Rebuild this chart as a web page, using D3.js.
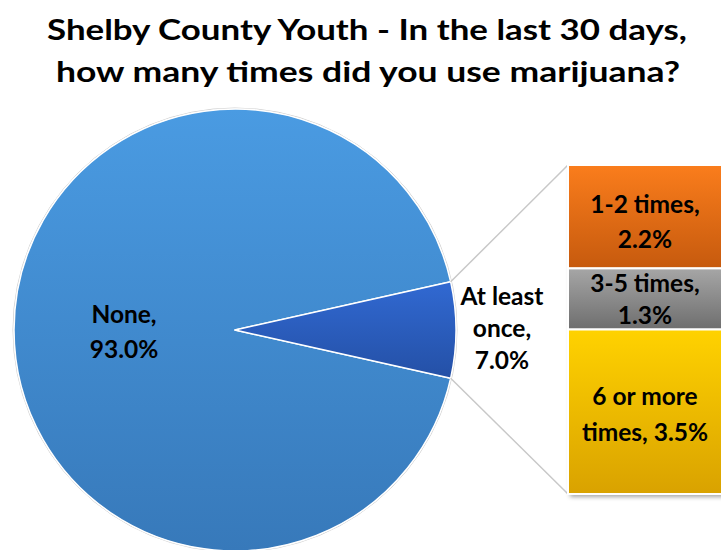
<!DOCTYPE html>
<html><head><meta charset="utf-8">
<script src="https://cdn.jsdelivr.net/npm/d3@7"></script>
<style>body{margin:0;background:#fff;overflow:hidden}svg{display:block}text{font-family:Lato,"Open Sans",sans-serif;font-weight:bold;fill:#000}</style>
</head><body>
<svg id="c" width="721" height="550"></svg>
<script>
const titleLines = ["Shelby County Youth - In the last 30 days,", "how many times did you use marijuana?"];
const pieCategories = ["None", "At least once"];
const pieValues = [93.0, 7.0];
const pieLabels = [["None,", "93.0%"], ["At least", "once,", "7.0%"]];
const barCategories = ["1-2 times", "3-5 times", "6 or more times"];
const barValues = [2.2, 1.3, 3.5];
const barLabels = [["1-2 times,", "2.2%"], ["3-5 times,", "1.3%"], ["6 or more", "times, 3.5%"]];

const svg = d3.select("#c");
const defs = svg.append("defs");
function grad(id, c1, c2){
  const g = defs.append("linearGradient").attr("id", id).attr("x1",0).attr("y1",0).attr("x2",0).attr("y2",1);
  g.append("stop").attr("offset","0%").attr("stop-color",c1);
  g.append("stop").attr("offset","100%").attr("stop-color",c2);
}
grad("gNone", "#4A9BE2", "#3779BA");
grad("gOnce", "#3169D2", "#2450A6");
grad("gB0", "#FA7D1C", "#C65A0E");
grad("gB1", "#A6A6A6", "#6E6E6E");
grad("gB2", "#FFD200", "#D9A200");
const f = defs.append("filter").attr("id","sh").attr("x","-10%").attr("y","-10%").attr("width","130%").attr("height","130%");
f.append("feDropShadow").attr("dx",2).attr("dy",3).attr("stdDeviation",2).attr("flood-color","#000").attr("flood-opacity",0.35);

// title
const tl = [[367, 40, 640], [368, 82, 624]];
titleLines.forEach((t,i)=>{
  svg.append("text").attr("x", tl[i][0]).attr("y", tl[i][1]).attr("text-anchor","middle")
    .attr("font-size", 29).attr("textLength", tl[i][2]).attr("lengthAdjust","spacingAndGlyphs").text(t);
});

// pie
const cx = 235, cy = 330, R = 221;
const frac = pieValues[1] / d3.sum(pieValues);
const start = Math.PI/2 + frac*Math.PI;
const pie = d3.pie().sort(null).startAngle(start).endAngle(start + 2*Math.PI);
const arcs = pie(pieValues);
const arc = d3.arc().innerRadius(0).outerRadius(R);
const gp = svg.append("g").attr("transform", `translate(${cx},${cy})`);
gp.append("circle").attr("r", R+1).attr("fill","none").attr("stroke","#d0d0d0").attr("stroke-width",1);
gp.selectAll("path").data(arcs).join("path").attr("d", arc)
  .attr("fill", (d,i)=> i===0 ? "url(#gNone)" : "url(#gOnce)")
  .attr("stroke","#fff").attr("stroke-width",1.5).attr("stroke-linejoin","round");

// bar
const bx0 = 568, bx1 = 723;
const y = d3.scaleLinear().domain([0, d3.sum(barValues)]).range([165, 494]);
const cum = [0]; barValues.forEach(v => cum.push(cum[cum.length-1] + v));
// connectors
const once = arcs[1];
const pt = a => [cx + R*Math.sin(a), cy - R*Math.cos(a)];
const pTop = pt(once.startAngle), pBot = pt(once.endAngle);
svg.append("line").attr("x1", pTop[0]).attr("y1", pTop[1]).attr("x2", bx0).attr("y2", y(0)).attr("stroke","#c8c8c8").attr("stroke-width",1.5);
svg.append("line").attr("x1", pBot[0]).attr("y1", pBot[1]).attr("x2", bx0).attr("y2", y(cum[3])).attr("stroke","#c8c8c8").attr("stroke-width",1.5);

const gb = svg.append("g");
gb.append("rect").attr("x", bx0).attr("y", y(0)).attr("width", bx1-bx0).attr("height", y(cum[3])-y(0)).attr("fill","#fff").attr("filter","url(#sh)");
gb.selectAll("rect.s").data(barValues).join("rect").attr("class","s")
  .attr("x", bx0).attr("y", (d,i)=> y(cum[i])).attr("width", bx1-bx0).attr("height", (d,i)=> y(cum[i+1]) - y(cum[i]))
  .attr("fill", (d,i)=> `url(#gB${i})`).attr("stroke","#fff").attr("stroke-width",2);

// labels
function lines(x, yb, arr, dy){
  arr.forEach((t,i)=> svg.append("text").attr("x",x).attr("y", yb + i*dy).attr("text-anchor","middle").attr("font-size",24.5).text(t));
}
lines(124, 323, pieLabels[0], 35);
lines(502, 305, pieLabels[1], 32);
const bcx = (bx0 + 722)/2;
const barBase = [213, 292, 405];
const barDy = [35, 32, 36];
barLabels.forEach((l,i)=> lines(bcx, barBase[i], l, barDy[i]));
</script>
</body></html>
